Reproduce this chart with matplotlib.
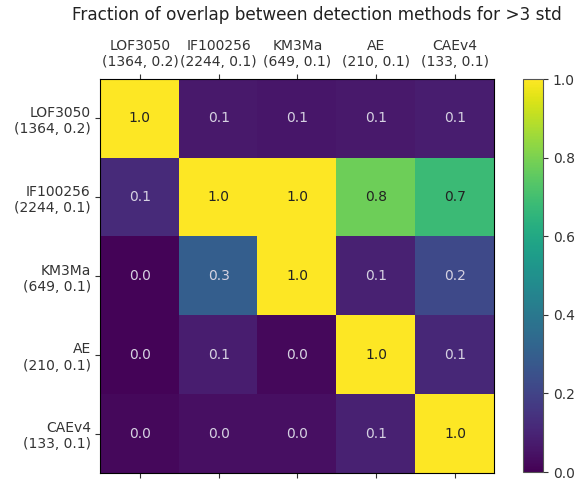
import numpy as np
import matplotlib
matplotlib.use('Agg')
from matplotlib import pyplot as plt

# method labels (name, count, threshold)
methods = ['LOF3050\n(1364, 0.2)', 'IF100256\n(2244, 0.1)', 'KM3Ma\n(649, 0.1)',
           'AE\n(210, 0.1)', 'CAEv4\n(133, 0.1)']

# overlap fractions, row = reference method
row_lof = [1.00, 0.07, 0.06, 0.07, 0.08]
row_if = [0.12, 1.00, 1.00, 0.78, 0.68]
row_km = [0.01, 0.30, 1.00, 0.09, 0.22]
row_ae = [0.01, 0.08, 0.02, 1.00, 0.11]
row_cae = [0.02, 0.04, 0.04, 0.09, 1.00]

overlap = np.array([row_lof, row_if, row_km, row_ae, row_cae])

fig = plt.figure(figsize=(5.8, 4.83), dpi=100)
ax = fig.add_axes([0.1724, 0.0207, 0.681, 0.8157])
cax = fig.add_axes([0.9017, 0.0227, 0.0345, 0.8137])

im = ax.imshow(overlap, cmap='viridis', vmin=0, vmax=1)

ax.set_xticks(range(len(methods)))
ax.set_yticks(range(len(methods)))
ax.set_xticklabels(methods, fontsize=10)
ax.set_yticklabels(methods, fontsize=10)
ax.tick_params(top=True, labeltop=True, bottom=True, labelbottom=False, colors='#333333')

for i in range(overlap.shape[0]):
    for j in range(overlap.shape[1]):
        v = overlap[i, j]
        c = '#222222' if v > 0.5 else '#d6d2e2'
        ax.text(j, i, '%.1f' % v, ha='center', va='center', fontsize=10, color=c)

cb = fig.colorbar(im, cax=cax)
cb.set_ticks([0.0, 0.2, 0.4, 0.6, 0.8, 1.0])
cb.ax.tick_params(labelsize=10, colors='#333333')
cb.outline.set_edgecolor('#555555')

fig.text(317 / 580, 1 - 15 / 483, 'Fraction of overlap between detection methods for >3 std',
         ha='center', va='center', fontsize=12.2, color='#222222')

fig.savefig('out.png', dpi=100)
